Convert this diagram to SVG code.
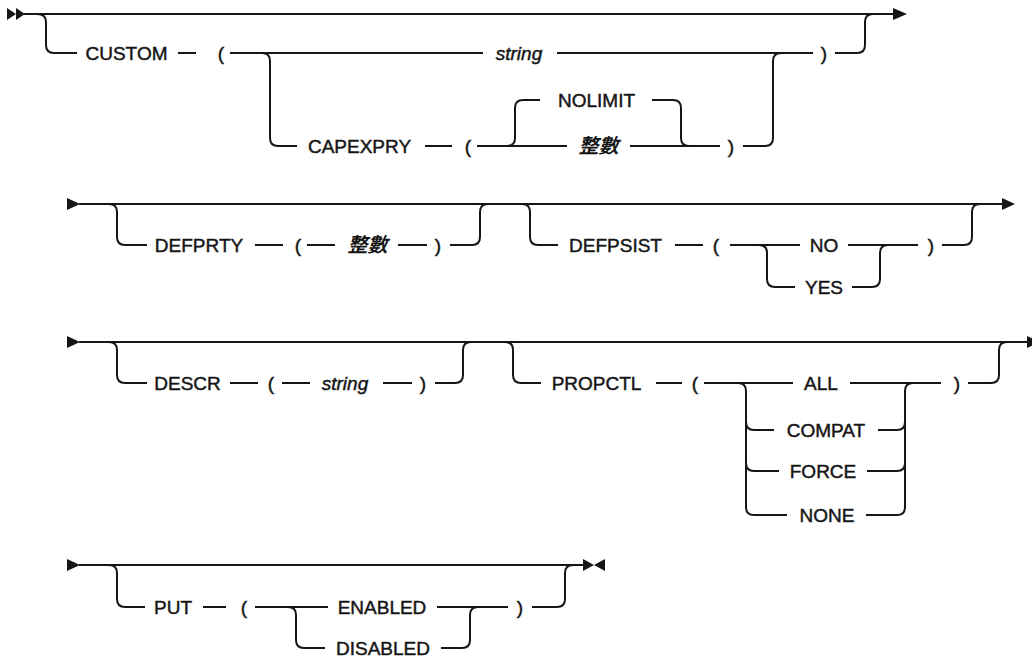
<svg xmlns="http://www.w3.org/2000/svg" width="1032" height="660" viewBox="0 0 1032 660">
<style>
.t{font-family:"Liberation Sans",Arial,sans-serif;font-size:19px;fill:#161616;stroke:#161616;stroke-width:0.45px;text-anchor:middle}
.i{font-style:italic}
.c{font-family:"Noto Sans CJK TC","Noto Sans CJK SC",sans-serif;font-size:20px;font-weight:bold;font-style:italic;fill:#161616;text-anchor:middle}
.l{fill:none;stroke:#161616;stroke-width:2}
.a{fill:#161616}
</style>
<rect width="1032" height="660" fill="#fff"/>
<g id="connectors">
<polygon class="a" points="7,8 16,14 7,20"/>
<polygon class="a" points="16,8 25,14 16,20"/>
<path class="l" d="M24 14 H894"/>
<polygon class="a" points="893,8 907,14 893,20"/>
<path class="l" d="M37 14 Q46 14 46 22 V45 Q46 53 54 53 H77"/>
<path class="l" d="M178 53 H196"/>
<path class="l" d="M230 53 H483 M557 53 H813"/>
<path class="l" d="M835 53 H857 Q865 53 865 45 V22 Q865 14 873 14"/>
<path class="l" d="M262 53 Q270 53 270 61 V138 Q270 146 278 146 H297"/>
<path class="l" d="M425 146 H452"/>
<path class="l" d="M477 146 H567 M630 146 H720"/>
<path class="l" d="M507 146 Q515 146 515 138 V108 Q515 100 523 100 H540"/>
<path class="l" d="M652 100 H673 Q681 100 681 108 V138 Q681 146 689 146"/>
<path class="l" d="M743 146 H765 Q773 146 773 138 V61 Q773 53 781 53"/>
<polygon class="a" points="67,198 80,204 67,210"/>
<path class="l" d="M79 204 H1003"/>
<polygon class="a" points="1002,198 1015,204 1002,210"/>
<path class="l" d="M109 204 Q117 204 117 212 V237 Q117 245 125 245 H147"/>
<path class="l" d="M255 245 H283 M307 245 H335 M398 245 H427"/>
<path class="l" d="M450 245 H472 Q480 245 480 237 V212 Q480 204 488 204"/>
<path class="l" d="M522 204 Q530 204 530 212 V237 Q530 245 538 245 H558"/>
<path class="l" d="M675 245 H703"/>
<path class="l" d="M730 245 H800 M848 245 H918"/>
<path class="l" d="M942 245 H964 Q972 245 972 237 V212 Q972 204 980 204"/>
<path class="l" d="M759 245 Q767 245 767 253 V279 Q767 287 775 287 H795"/>
<path class="l" d="M852 287 H872 Q880 287 880 279 V253 Q880 245 888 245"/>
<polygon class="a" points="67,336 80,342 67,348"/>
<path class="l" d="M79 342 H1028"/>
<polygon class="a" points="1027,336 1040,342 1027,348"/>
<path class="l" d="M109 342 Q117 342 117 350 V375 Q117 383 125 383 H147"/>
<path class="l" d="M230 383 H258 M282 383 H310 M383 383 H412"/>
<path class="l" d="M435 383 H455 Q463 383 463 375 V350 Q463 342 471 342"/>
<path class="l" d="M505 342 Q513 342 513 350 V375 Q513 383 521 383 H541"/>
<path class="l" d="M656 383 H682"/>
<path class="l" d="M704 383 H793 M850 383 H941"/>
<path class="l" d="M738 383 Q746 383 746 391 V507 Q746 515 754 515 H787"/>
<path class="l" d="M746 422 Q746 430 754 430 H774 M746 463 Q746 471 754 471 H779"/>
<path class="l" d="M878 430 H897 Q905 430 905 422 M867 471 H897 Q905 471 905 463"/>
<path class="l" d="M866 515 H897 Q905 515 905 507 V391 Q905 383 913 383"/>
<path class="l" d="M968 383 H991 Q999 383 999 375 V350 Q999 342 1007 342"/>
<polygon class="a" points="67,559 80,565 67,571"/>
<path class="l" d="M79 565 H584"/>
<polygon class="a" points="583,559 594,565 583,571"/>
<polygon class="a" points="605,559 594,565 605,571"/>
<path class="l" d="M109 565 Q117 565 117 573 V599 Q117 607 125 607 H145"/>
<path class="l" d="M203 607 H226"/>
<path class="l" d="M255 607 H328 M437 607 H508"/>
<path class="l" d="M532 607 H557 Q565 607 565 599 V573 Q565 565 573 565"/>
<path class="l" d="M288 607 Q296 607 296 615 V640 Q296 648 304 648 H325"/>
<path class="l" d="M441 648 H462 Q470 648 470 640 V615 Q470 607 478 607"/>
</g>
<g id="n-custom"><text class="t" x="126.5" y="60">CUSTOM</text><text class="t" x="221" y="60">(</text><text class="t i" x="519" y="60">string</text><text class="t" x="824" y="60">)</text></g>
<g id="n-capexpry"><text class="t" x="359.5" y="153">CAPEXPRY</text><text class="t" x="468" y="153">(</text><text class="t" x="596.5" y="107">NOLIMIT</text><text class="c" x="598.5" y="153">整數</text><text class="t" x="731" y="153">)</text></g>
<g id="n-defprty"><text class="t" x="199" y="252">DEFPRTY</text><text class="t" x="298" y="252">(</text><text class="c" x="367.5" y="252">整數</text><text class="t" x="438" y="252">)</text></g>
<g id="n-defpsist"><text class="t" x="615.5" y="252">DEFPSIST</text><text class="t" x="716" y="252">(</text><text class="t" x="824" y="252">NO</text><text class="t" x="824" y="294">YES</text><text class="t" x="931" y="252">)</text></g>
<g id="n-descr"><text class="t" x="187.5" y="390">DESCR</text><text class="t" x="271" y="390">(</text><text class="t i" x="345" y="390">string</text><text class="t" x="423" y="390">)</text></g>
<g id="n-propctl"><text class="t" x="596.5" y="390">PROPCTL</text><text class="t" x="695" y="390">(</text><text class="t" x="821" y="390">ALL</text><text class="t" x="826" y="437">COMPAT</text><text class="t" x="823" y="478">FORCE</text><text class="t" x="827" y="522">NONE</text><text class="t" x="957" y="390">)</text></g>
<g id="n-put"><text class="t" x="173" y="614">PUT</text><text class="t" x="244" y="614">(</text><text class="t" x="382" y="614">ENABLED</text><text class="t" x="383" y="655">DISABLED</text><text class="t" x="520" y="614">)</text></g>
</svg>
